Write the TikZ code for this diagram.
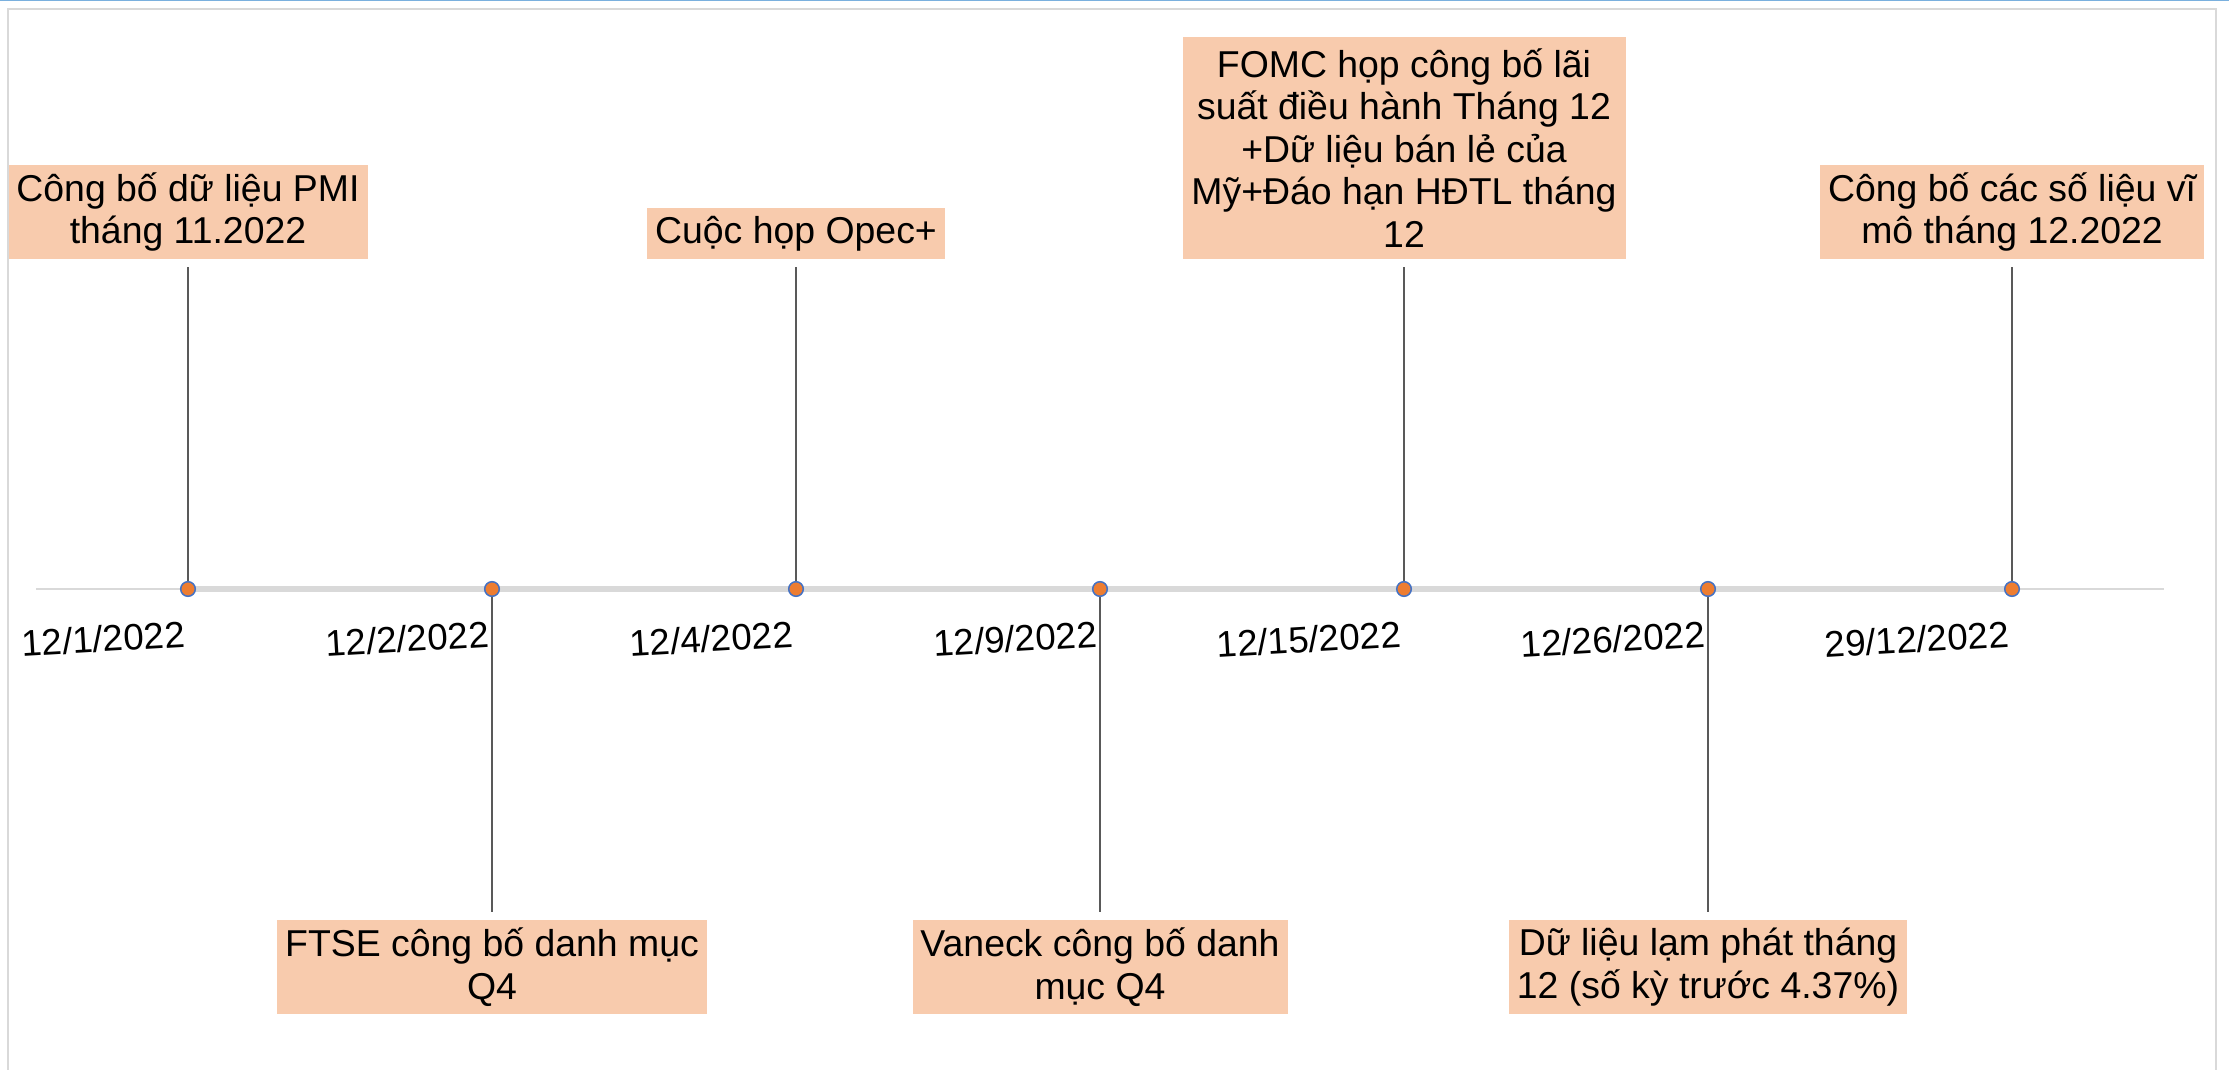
\documentclass[tikz,border=0pt]{standalone}
\usepackage{fontspec}
\setmainfont{Liberation Sans}
\definecolor{boxfill}{HTML}{F8CBAD}
\definecolor{dotfill}{HTML}{ED7D31}
\definecolor{dotline}{HTML}{4472C4}
\definecolor{axisgray}{HTML}{D9D9D9}
\definecolor{stemgray}{HTML}{595959}
\definecolor{topblue}{HTML}{7AB0DE}
\definecolor{framegray}{HTML}{D9D9D9}
\begin{document}
\begin{tikzpicture}[x=0.5pt,y=-0.5pt,
  evbox/.style={fill=boxfill, inner sep=0pt, align=center, font=\fontsize{18.7}{21.3}\selectfont, minimum height=47pt},
  evdot/.style={circle, fill=dotfill, draw=dotline, line width=0.75pt, minimum size=7.3pt, inner sep=0pt},
  datelbl/.style={anchor=base east, rotate=3.4, font=\fontsize{18.4}{21}\selectfont, inner sep=0pt},
  stemline/.style={draw=stemgray, line width=0.8pt, shorten <=4pt},
  axisthin/.style={draw=axisgray, line width=1pt},
  axisthick/.style={draw=axisgray, line width=3pt},
]
\useasboundingbox (0,0) rectangle (2229,1070);
% frame
\draw[topblue, line width=0.6pt] (0,0.6) -- (2229,0.6);
\draw[framegray, line width=1pt] (8,1070) -- (8,9) -- (2216,9) -- (2216,1070);

% dot positions
\coordinate (c1) at (188,589);
\coordinate (c2) at (492,589);
\coordinate (c3) at (796,589);
\coordinate (c4) at (1100,589);
\coordinate (c5) at (1404,589);
\coordinate (c6) at (1708,589);
\coordinate (c7) at (2012,589);
\coordinate (axl) at (36,589);
\coordinate (axr) at (2164,589);

% axis
\draw[axisthin] (axl) -- (axr);
\draw[axisthick] (c1) -- (c7);

% event boxes
\node[evbox, minimum width=179.5pt] (pmi) at (188,212) {Công bố dữ liệu PMI\\tháng 11.2022};
\node[evbox, minimum width=149pt, minimum height=25.5pt] (opec) at (796,233.5) {Cuộc họp Opec+};
\node[evbox, minimum width=221.5pt, minimum height=111pt] (fomc) at (1404,148) {FOMC họp công bố lãi\\suất điều hành Tháng 12\\+Dữ liệu bán lẻ của\\Mỹ+Đáo hạn HĐTL tháng\\12};
\node[evbox, minimum width=192pt] (macro) at (2012,212) {Công bố các số liệu vĩ\\mô tháng 12.2022};
\node[evbox, minimum width=215pt] (ftse) at (492,967) {FTSE công bố danh mục\\Q4};
\node[evbox, minimum width=187.5pt] (vaneck) at (1100,967) {Vaneck công bố danh\\mục Q4};
\node[evbox, minimum width=199pt] (lamphat) at (1708,967) {Dữ liệu lạm phát tháng\\12 (số kỳ trước 4.37\%)};

% stems
\draw[stemline] (pmi.south) -- (c1);
\draw[stemline] (opec.south) -- (c3);
\draw[stemline] (fomc.south) -- (c5);
\draw[stemline] (macro.south) -- (c7);
\draw[stemline] (ftse.north) -- (c2);
\draw[stemline] (vaneck.north) -- (c4);
\draw[stemline] (lamphat.north) -- (c6);

% dots
\foreach \i in {1,...,7} {\node[evdot] (d\i) at (c\i) {};}

% date labels
\node[datelbl] (l1) at (186,647) {12/1/2022};
\node[datelbl] (l2) at (490,647) {12/2/2022};
\node[datelbl] (l3) at (794,647) {12/4/2022};
\node[datelbl] (l4) at (1098,647) {12/9/2022};
\node[datelbl] (l5) at (1402,647) {12/15/2022};
\node[datelbl] (l6) at (1706,647) {12/26/2022};
\node[datelbl] (l7) at (2010,647) {29/12/2022};
\end{tikzpicture}
\end{document}
